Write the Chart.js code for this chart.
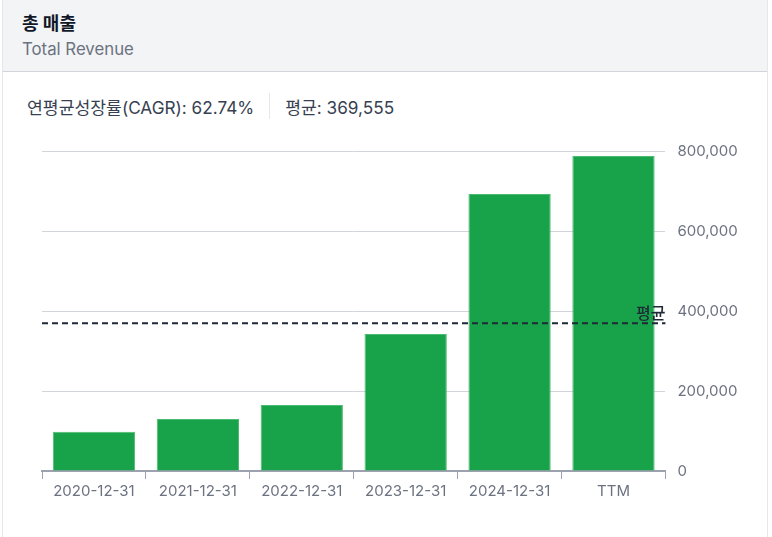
<!DOCTYPE html>
<html><head><meta charset="utf-8">
<script src="https://cdn.jsdelivr.net/npm/chart.js@4/dist/chart.umd.min.js"></script>
<style>
html,body{margin:0;padding:0;background:#fff;width:772px;height:537px;overflow:hidden;font-family:"Inter","Noto Sans CJK KR",sans-serif;}
.card{position:absolute;left:2px;top:-1px;width:766px;height:545px;border:1px solid #e5e7eb;box-sizing:border-box;}
.head{position:absolute;left:0;top:0;right:0;height:71px;background:#f3f4f6;border-bottom:1px solid #d1d5db;}
.t1{position:absolute;left:19px;top:9px;font-size:18px;font-weight:700;color:#111827;}
.t2{position:absolute;left:19px;top:39px;font-size:16.8px;color:#6b7280;}
.stats{position:absolute;left:27px;top:93px;font-size:17.2px;color:#374151;display:flex;align-items:center;}
.sep{width:1px;height:26px;background:#e5e7eb;margin:0 15px;}
#wrap{position:absolute;left:0;top:130px;width:772px;height:407px;}
</style></head>
<body>
<div class="card"><div class="head"><div class="t1">총 매출</div><div class="t2">Total Revenue</div></div></div>
<div class="stats"><span>연평균성장률(CAGR): 62.74%</span><span class="sep"></span><span>평균: 369,555</span></div>
<div id="wrap"><canvas id="c"></canvas></div>
<script>
const categories = ["2020-12-31","2021-12-31","2022-12-31","2023-12-31","2024-12-31","TTM"];
const revenue = [98000, 130000, 165000, 342500, 692500, 787500];
const average = 369555;
const yTicks = [0, 200000, 400000, 600000, 800000];
const avgLabel = "평균";

const avgPlugin = {
  id: 'avgLine',
  afterDatasetsDraw(chart) {
    const {ctx, chartArea, scales} = chart;
    const y = scales.y.getPixelForValue(average);
    ctx.save();
    ctx.strokeStyle = '#1f2937';
    ctx.lineWidth = 2;
    ctx.setLineDash([6, 4]);
    ctx.beginPath();
    ctx.moveTo(chartArea.left, y);
    ctx.lineTo(chartArea.right, y);
    ctx.stroke();
    ctx.setLineDash([]);
    ctx.fillStyle = '#1f2937';
    ctx.font = '500 16px "Noto Sans CJK KR"';
    ctx.textAlign = 'right';
    ctx.textBaseline = 'bottom';
    ctx.fillText(avgLabel, chartArea.right, y - 2);
    ctx.restore();
  }
};

new Chart(document.getElementById('c'), {
  type: 'bar',
  data: {
    labels: categories,
    datasets: [{
      data: revenue,
      backgroundColor: '#18a34a',
      borderColor: '#4cbb72',
      borderWidth: 1,
      borderSkipped: 'bottom',
      categoryPercentage: 0.9,
      barPercentage: 0.88
    }]
  },
  options: {
    responsive: true,
    maintainAspectRatio: false,
    animation: false,
    layout: {padding: {left: 42, top: 18, right: 22, bottom: 34}},
    plugins: {legend: {display: false}, tooltip: {enabled: false}},
    scales: {
      x: {
        grid: {display: true, drawOnChartArea: false, drawTicks: true, tickLength: 8, color: '#9ca3af'},
        border: {display: true, color: '#9ca3af', width: 2},
        ticks: {color: '#6b7280', font: {family: 'Inter', size: 15}, padding: 3}
      },
      y: {
        position: 'right',
        min: 0, max: 800000,
        afterBuildTicks(axis) { axis.ticks = yTicks.map(v => ({value: v})); },
        grid: {color: '#d1d5db', drawTicks: false},
        border: {display: false},
        ticks: {color: '#6b7280', font: {family: 'Inter', size: 15}, padding: 12,
          callback: v => v.toLocaleString('en-US')}
      }
    }
  },
  plugins: [avgPlugin]
});
</script>
</body></html>
